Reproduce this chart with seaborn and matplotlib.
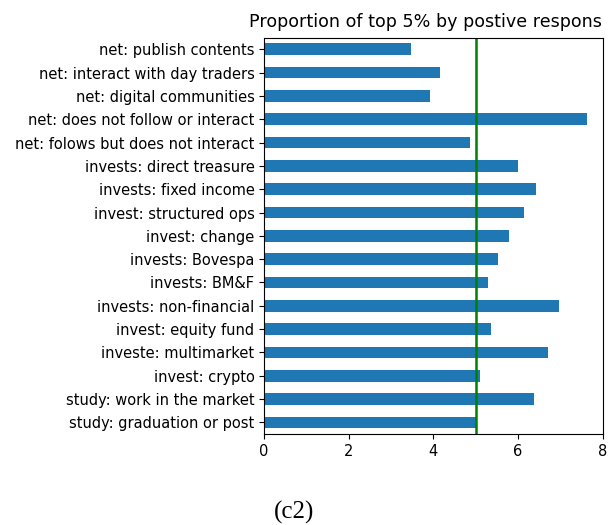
import matplotlib
matplotlib.use("Agg")
import matplotlib.pyplot as plt
import numpy as np
import pandas as pd
import seaborn as sns

# categories top -> bottom
labels = ['net: publish contents', 'net: interact with day traders', 'net: digital communities',
          'net: does not follow or interact', 'net: folows but does not interact',
          'invests: direct treasure', 'invests: fixed income', 'invest: structured ops',
          'invest: change', 'invests: Bovespa', 'invests: BM&F', 'invests: non-financial',
          'invest: equity fund', 'investe: multimarket', 'invest: crypto',
          'study: work in the market', 'study: graduation or post']
values = [3.46, 4.16, 3.92, 7.62, 4.86, 6.01, 6.42, 6.14, 5.78, 5.52, 5.28, 6.96,
          5.36, 6.70, 5.11, 6.38, 5.03]
threshold = 5
xticks = [0, 2, 4, 6, 8]

df = pd.DataFrame({'label': labels, 'value': values})

fig = plt.figure(figsize=(6.1, 5.25), dpi=100)
ax = fig.add_axes([0.433, 0.1733, 0.555, 0.755])
sns.barplot(data=df, x='value', y='label', orient='h', color='#1f77b4',
            saturation=1, width=0.5, ax=ax)
ax.axvline(threshold, color='green', linewidth=1.8)
ax.set_xlim(0, 8)
ax.set_ylim(len(labels) - 0.5, -0.5)
ax.set_xticks(xticks)
ax.set_xlabel('')
ax.set_ylabel('')
ax.tick_params(labelsize=10.5)

fig.text(249 / 610, 1 - 22 / 525, 'Proportion of top 5% by postive respons',
         ha='left', va='center', fontsize=12.6)
fig.text(294 / 610, 1 - 512 / 525, '(c2)', ha='center', va='center',
         fontsize=18, family='Liberation Serif')

fig.savefig('out.png', dpi=100)
